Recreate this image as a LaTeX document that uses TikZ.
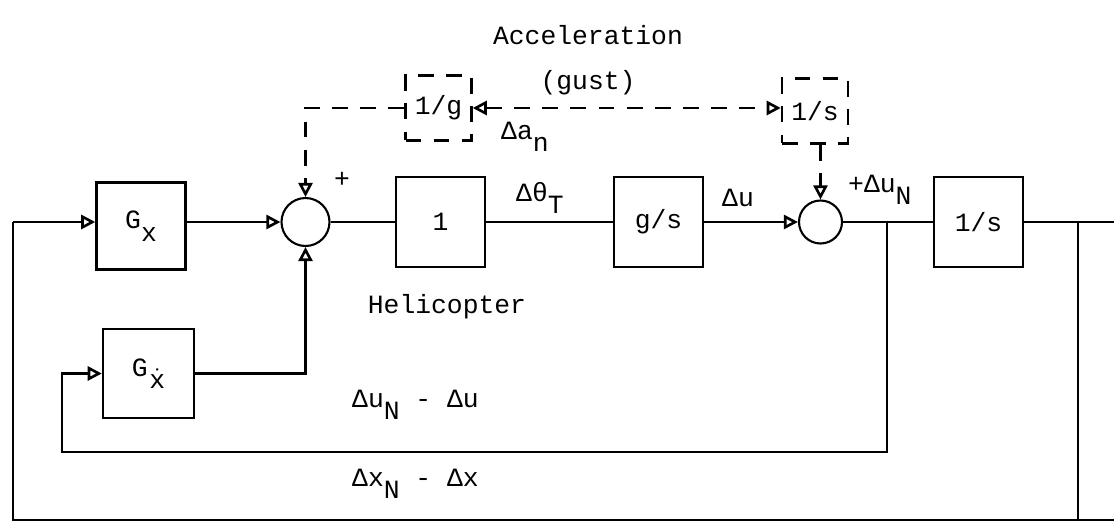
\documentclass[tikz,border=0pt]{standalone}
\usepackage{fontspec}
\setmainfont{Liberation Mono}
\usetikzlibrary{arrows.meta}
\newcommand{\dn}[1]{\raisebox{-0.9ex}{#1}}
\tikzset{
  blk/.style={draw, line width=1.4pt, minimum width=1.78cm, minimum height=1.8cm, inner sep=0pt},
  dblk/.style={draw, line width=1.4pt, dash pattern=on 9pt off 7pt, minimum width=1.32cm, minimum height=1.3cm, inner sep=0pt},
  sumj/.style={draw, circle, line width=1.2pt, inner sep=0pt},
  sig/.style={line width=1.5pt, -{Triangle[open,length=8pt,width=8pt]}},
  wire/.style={line width=1.5pt},
  dsig/.style={line width=1.5pt, dash pattern=on 9pt off 7pt, -{Triangle[open,length=8pt,width=8pt]}},
}
\begin{document}
\begin{tikzpicture}[x=0.02cm, y=-0.02cm, font=\fontsize{15}{17}\selectfont]
  \useasboundingbox (0,0) rectangle (1114,531);
  \node[blk, minimum height=1.74cm] (gx) at (141,226) {G\dn{x}};
  \node[sumj, minimum size=0.96cm] (sumA) at (305.5,222) {};
  \node[blk] (hel) at (440.5,222) {1};
  \node[blk] (gs) at (658.5,222) {g/s};
  \node[sumj, minimum size=0.86cm] (sumB) at (820.5,222) {};
  \node[blk] (integ) at (978.5,222) {1/s};
  \node[blk, minimum width=1.82cm, minimum height=1.78cm] (gxd) at (148.5,373.5) {G\kern1pt\dn{$\dot{\hbox{x}}$}};
  \node[dblk] (invg) at (438.5,108) {1/g};
  \node[dblk] (invs) at (815,111) {1/s};
  \coordinate (tapu) at (887,222);
  \coordinate (tapx) at (1078,222);
  \coordinate (outend) at (1114,222);
  \coordinate (lpA) at (887,452);
  \coordinate (lpB) at (62,452);
  \coordinate (lpC) at (62,373.5);
  \coordinate (olA) at (1078,520);
  \coordinate (olR) at (1114,520);
  \coordinate (olB) at (13,520);
  \coordinate (olC) at (13,222);
  \coordinate (dk) at (305.5,108);
  \draw[sig] (olC) -- (gx.west |- olC);
  \draw[sig] (gx.east |- sumA) -- (sumA.west);
  \draw[wire] (sumA.east) -- (hel.west);
  \draw[wire] (hel.east) -- (gs.west);
  \draw[sig] (gs.east) -- (sumB.west);
  \draw[wire] (sumB.east) -- (integ.west);
  \draw[wire] (integ.east) -- (outend);
  \draw[wire] (tapx) -- (olA);
  \draw[wire] (olR) -- (olB) -- (olC);
  \draw[sig] (tapu) -- (lpA) -- (lpB) -- (lpC) -- (gxd.west);
  \draw[sig] (gxd.east) -- (sumA |- gxd.east) -- (sumA.south);
  \draw[dsig] (invg.west) -- (dk) -- (sumA.north);
  \draw[dsig, {Triangle[open,length=8pt,width=8pt]}-{Triangle[open,length=8pt,width=8pt]}] (invg.east) -- (invs.west |- invg.east);
  \draw[dsig] (sumB |- invs.south) -- (sumB.north);
  \path (588,35) node {Acceleration}
        (588,83) node {(gust)}
        (495,137) node [anchor=west] {Δa\dn{n}}
        (342,180) node {+}
        (510,198) node [anchor=west] {Δθ\dn{T}}
        (716,198) node [anchor=west] {Δu}
        (842,190) node [anchor=west] {+Δu\dn{N}}
        (447,307) node {Helicopter}
        (346,405) node [anchor=west] {Δu\dn{N} - Δu}
        (346,484) node [anchor=west] {Δx\dn{N} - Δx};
\end{tikzpicture}
\end{document}
